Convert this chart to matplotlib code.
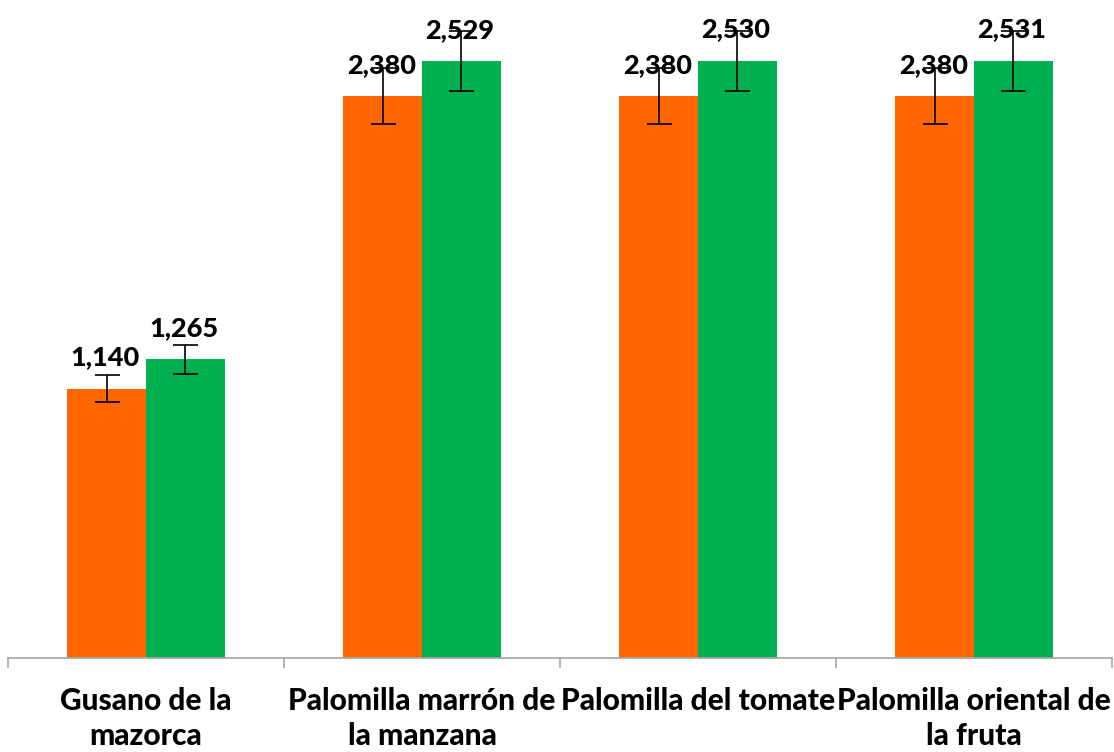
import numpy as np
import matplotlib.pyplot as plt
from matplotlib.ticker import FixedLocator

# datos
categorias = ['Gusano de la\nmazorca', 'Palomilla marrón de\nla manzana',
              'Palomilla del tomate', 'Palomilla oriental de\nla fruta']
serie_naranja = [1140, 2380, 2380, 2380]
serie_verde = [1265, 2529, 2530, 2531]
err_naranja = [57, 119, 119, 119]
err_verde = [63, 126, 126, 127]

plt.rcParams['font.family'] = ['Lato', 'DejaVu Sans']

fig = plt.figure(figsize=(11.14, 7.52), dpi=100)
ax = fig.add_axes([8 / 1114, 94 / 752, 1104 / 1114, 658 / 752])

x = np.arange(len(categorias))
ancho = 0.286
b1 = ax.bar(x - ancho / 2, serie_naranja, ancho, color='#FF6600',
            yerr=err_naranja, capsize=9, error_kw=dict(elinewidth=1.2, capthick=1.2, ecolor='black'))
b2 = ax.bar(x + ancho / 2, serie_verde, ancho, color='#00B050',
            yerr=err_verde, capsize=9, error_kw=dict(elinewidth=1.2, capthick=1.2, ecolor='black'))

for barras, vals in [(b1, serie_naranja), (b2, serie_verde)]:
    for b, v in zip(barras, vals):
        ax.annotate(f'{v:,}', (b.get_x() + b.get_width() / 2, v), xytext=(-1, 14),
                    textcoords='offset points', ha='center', va='bottom',
                    fontsize=19.5, fontweight='black')

ax.set_xlim(-0.5, 3.5)
ax.set_ylim(0, 2788)
ax.set_yticks([])
for s in ['left', 'right', 'top']:
    ax.spines[s].set_visible(False)
ax.spines['bottom'].set_color('#A6A6A6')
ax.spines['bottom'].set_linewidth(1.2)

ax.set_xticks(x)
ax.set_xticklabels(categorias, fontsize=21.5, fontweight='black', linespacing=1.3)
ax.tick_params(axis='x', which='major', length=0, pad=21)
ax.xaxis.set_minor_locator(FixedLocator([-0.5, 0.5, 1.5, 2.5, 3.5]))
ax.tick_params(axis='x', which='minor', length=7.5, width=1.2, color='#A6A6A6')

fig.savefig('out.png', dpi=100)
